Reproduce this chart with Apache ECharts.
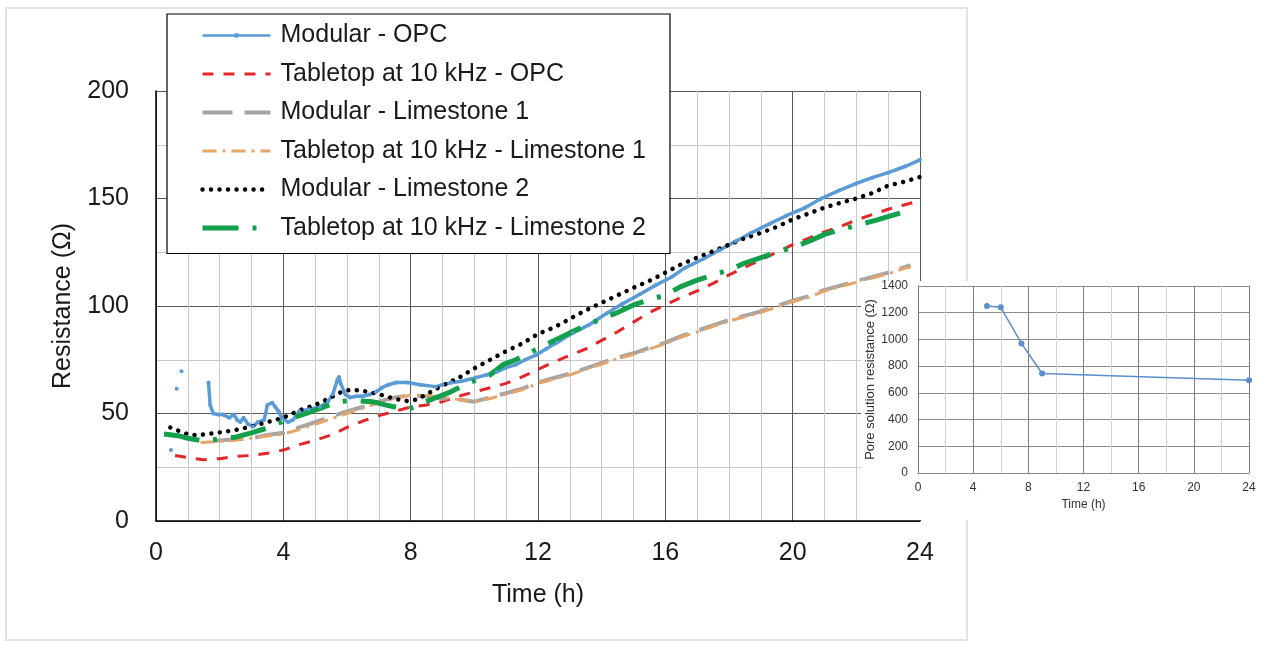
<!DOCTYPE html>
<html>
<head>
<meta charset="utf-8">
<title>Resistance vs time</title>
<script src="https://cdn.jsdelivr.net/npm/echarts@6/dist/echarts.min.js"></script>
<style>
  html, body { margin: 0; padding: 0; background: #fff; }
  #chart { width: 1262px; height: 645px; }
</style>
</head>
<body>
<div id="chart"></div>
<script>
// ---- data: [time (h), resistance (Ω)] ----
const seriesNames = [
  'Modular - OPC',
  'Tabletop at 10 kHz - OPC',
  'Modular - Limestone 1',
  'Tabletop at 10 kHz - Limestone 1',
  'Modular - Limestone 2',
  'Tabletop at 10 kHz - Limestone 2'
];

const modularOpc = [
  [0.47, 33], null, [0.65, 61.5], null, [0.8, 69.6], null,
  [1.65, 64.4], [1.7, 54], [1.8, 50], [1.95, 49.5], [2.1, 49.5], [2.3, 48], [2.45, 49.5],
  [2.55, 47], [2.65, 46], [2.75, 48], [2.9, 45], [3.05, 44], [3.2, 46], [3.4, 47],
  [3.5, 54], [3.65, 55], [3.75, 53], [3.85, 51], [3.95, 48], [4.15, 46], [4.3, 47],
  [4.5, 51], [4.8, 52], [5.15, 53], [5.4, 55.5], [5.55, 58.8], [5.7, 65.7], [5.75, 67],
  [5.8, 64], [5.95, 58.8], [6.1, 57.4], [6.3, 58], [6.5, 58], [6.7, 58.8], [6.9, 60],
  [7.1, 62], [7.3, 63.4], [7.55, 64.4], [7.9, 64.4], [8.3, 63.4], [8.8, 62.5], [9.0, 63.4],
  [9.3, 64.4], [9.6, 65], [10.05, 66.7], [10.4, 68], [10.7, 69.4], [11.0, 71.3], [11.3, 72.7],
  [11.6, 75], [11.95, 77.3], [12.25, 80], [12.6, 83], [13.1, 87.5], [13.6, 91.2], [14.15, 96.5],
  [14.65, 101], [15.2, 105.5], [15.7, 109.7], [16.2, 113.5], [16.6, 117.6], [17.2, 122],
  [17.7, 126], [18.2, 130], [18.7, 134], [19.3, 138.4], [19.8, 142], [20.4, 145.8], [20.9, 150],
  [21.45, 153.7], [22.0, 157], [22.5, 159.7], [23.0, 162], [23.55, 165], [24.0, 168]
];

const tabletopOpc = [
  [0.6, 30.5], [1.0, 29.5], [1.5, 28.5], [2.0, 29], [2.5, 30], [3.0, 30.5], [3.5, 31.5],
  [4.0, 33], [4.5, 35.5], [5.0, 37.5], [5.5, 40], [6.0, 43.5], [6.5, 46.5], [7.0, 49],
  [7.5, 51], [8.0, 53], [8.5, 54], [9.0, 55.5], [9.5, 58], [10.0, 60], [10.5, 62], [11.0, 64],
  [11.5, 67], [12.0, 70.5], [12.5, 74], [13.0, 77], [13.5, 80], [14.0, 84], [14.5, 88],
  [15.0, 92.5], [15.5, 97], [16.0, 100.5], [16.5, 104], [17.0, 107], [17.5, 110.5],
  [18.0, 114.5], [18.5, 118], [19.0, 121.5], [19.5, 125], [20.0, 128.5], [20.5, 131.5],
  [21.0, 134.5], [21.5, 137], [22.0, 140], [22.5, 142.5], [23.0, 145], [23.5, 147], [24.0, 149]
];

const modularLs1 = [
  [1.8, 37.5], [2.0, 37.5], [2.5, 38], [3.0, 38.5], [3.5, 40], [4.0, 41], [4.5, 43.5],
  [5.0, 46], [5.5, 48.5], [6.0, 51], [6.5, 53], [7.0, 55.5], [7.5, 57.5], [8.0, 58.5],
  [8.5, 58], [9.0, 57], [9.5, 56.5], [10.0, 55.5], [10.5, 57.5], [11.0, 59.5], [11.5, 61.5],
  [12.0, 64.5], [12.5, 66.5], [13.0, 68.5], [13.5, 71], [14.0, 73.5], [14.5, 76], [15.0, 78],
  [15.5, 80.5], [16.0, 83], [16.5, 86], [17.0, 88.5], [17.5, 91], [18.0, 93.5], [18.5, 95.5],
  [19.0, 97.5], [19.5, 100], [20.0, 102.5], [20.5, 104.5], [21.0, 107.5], [21.5, 109.5],
  [22.0, 111.5], [22.5, 113.5], [23.0, 115.5], [23.5, 118], [23.7, 119]
];

const tabletopLs1 = [
  [1.4, 36.5], [2.0, 37], [2.5, 37.5], [3.0, 38.5], [3.5, 39.5], [4.0, 40.5], [4.5, 42.5],
  [5.0, 45], [5.5, 47.5], [6.0, 50], [6.5, 52.5], [7.0, 55], [7.5, 57], [8.0, 58.5],
  [8.5, 58.5], [9.0, 57.5], [9.5, 56.5], [10.0, 55.5], [10.5, 57], [11.0, 59], [11.5, 61],
  [12.0, 64], [12.5, 66], [13.0, 68], [13.5, 70.5], [14.0, 73], [14.5, 75.5], [15.0, 77.5],
  [15.5, 80], [16.0, 82.5], [16.5, 85.5], [17.0, 88], [17.5, 90.5], [18.0, 93], [18.5, 95],
  [19.0, 97], [19.5, 99.5], [20.0, 102], [20.5, 104], [21.0, 107], [21.5, 109], [22.0, 111],
  [22.5, 113], [23.0, 115], [23.5, 117.5], [23.7, 118]
];

const modularLs2 = [
  [0.45, 43.5], [0.75, 41.7], [1.0, 40.3], [1.3, 39.8], [1.6, 40.5], [2.0, 41.2], [2.5, 42.3],
  [3.0, 44], [3.5, 46], [4.0, 48], [4.5, 51.5], [5.0, 54], [5.5, 57.5], [5.9, 60.6], [6.2, 61],
  [6.5, 60.5], [7.0, 59], [7.5, 56.8], [7.9, 55.8], [8.2, 56.5], [8.5, 59], [9.0, 63],
  [9.5, 66.5], [10.0, 71], [10.5, 75], [11.0, 79], [11.5, 82.5], [12.0, 87], [12.5, 90],
  [13.0, 94], [13.5, 98], [14.0, 101.5], [14.5, 105], [15.0, 108.5], [15.5, 111.7],
  [16.0, 115.5], [16.5, 119.4], [17.0, 122.5], [17.5, 125.5], [18.0, 128.5], [18.5, 131.5],
  [19.0, 134], [19.5, 136.8], [20.0, 140.3], [20.5, 143], [21.0, 145.8], [21.5, 148],
  [22.0, 150], [22.5, 152.5], [23.0, 156], [23.5, 157.8], [24.0, 160]
];

const tabletopLs2 = [
  [0.25, 40.5], [0.75, 39.5], [1.0, 38.5], [1.6, 37], [2.0, 38.4], [2.5, 39], [3.0, 41],
  [3.55, 43.5], [4.0, 46.5], [4.6, 49.5], [5.0, 51.5], [5.7, 55.5], [6.2, 56], [6.8, 55.5],
  [7.2, 54], [7.9, 51.8], [8.4, 55], [8.9, 58], [9.2, 59.7], [9.85, 64.4], [10.5, 68],
  [10.9, 72.7], [11.3, 75], [11.8, 78.7], [12.45, 83.5], [13.0, 87.5], [13.5, 91], [14.0, 94],
  [14.5, 97], [15.0, 100.5], [15.5, 103], [16.0, 105], [16.45, 108.8], [17.0, 112],
  [17.5, 114.5], [18.0, 116.7], [18.5, 120], [19.05, 122.7], [19.5, 125], [20.0, 127.3],
  [20.5, 130], [21.0, 133.3], [21.5, 135.5], [22.0, 137.5], [22.6, 139.8], [23.1, 142],
  [23.65, 144.4]
];

// pore solution resistance (inset)
const poreTime = [5, 6, 7.5, 9, 24];
const poreResistance = [1250, 1240, 970, 745, 695];

// axis ticks
const mainTimeTicks = [0, 4, 8, 12, 16, 20, 24];
const mainResTicks = [0, 50, 100, 150, 200];
const insetTimeTicks = [0, 4, 8, 12, 16, 20, 24];
const insetResTicks = [0, 200, 400, 600, 800, 1000, 1200, 1400];

// ---- styles ----
const FONT = "'Liberation Sans', Arial, sans-serif";
const styles = [
  { color: '#5b9bd5', width: 3.5, type: 'solid', cap: 'butt', symbol: true },
  { color: '#e3262b', width: 3, type: [11, 10], cap: 'butt' },
  { color: '#a5a5a5', width: 4, type: [30, 12], cap: 'butt' },
  { color: '#e6a46a', width: 3, type: [14, 6, 3, 6], cap: 'butt' },
  { color: '#000000', width: 4.5, type: [0.01, 8.5], cap: 'round' },
  { color: '#12a04a', width: 5, type: [36, 14, 4, 14], cap: 'butt' }
];
const mainData = [modularOpc, tabletopOpc, modularLs1, tabletopLs1, modularLs2, tabletopLs2];

function ticksAxis(ticks) {
  return { min: ticks[0], max: ticks[ticks.length - 1], interval: ticks[1] - ticks[0] };
}

const mainSeries = seriesNames.map((name, i) => {
  const s = styles[i];
  return {
    name: name,
    type: 'line',
    xAxisIndex: 0,
    yAxisIndex: 0,
    data: mainData[i],
    connectNulls: false,
    symbol: s.symbol ? 'circle' : 'none',
    symbolSize: 4,
    showSymbol: !!s.symbol,
    showAllSymbol: true,
    color: s.color,
    itemStyle: { color: s.color },
    lineStyle: { color: s.color, width: s.width, type: s.type, cap: s.cap },
    emphasis: { disabled: true },
    animation: false,
    z: 2
  };
});

const legendData = seriesNames.map((name, i) => {
  const s = styles[i];
  return {
    name: name,
    itemStyle: s.symbol ? { color: s.color } : { opacity: 0 },
    lineStyle: { color: s.color, width: s.symbol ? 2.5 : s.width, type: s.type, cap: s.cap }
  };
});

const chart = echarts.init(document.getElementById('chart'), null, { renderer: 'canvas' });

const option = {
  backgroundColor: '#ffffff',
  animation: false,
  textStyle: { fontFamily: FONT },
  graphic: [
    {
      type: 'rect', z: 1, silent: true,
      shape: { x: 6, y: 8, width: 961, height: 632 },
      style: { fill: 'none', stroke: '#d9d9d9', lineWidth: 1.5 }
    },
    {
      type: 'rect', z: 6, silent: true,
      shape: { x: 861, y: 281, width: 401, height: 239 },
      style: { fill: '#ffffff', stroke: 'none' }
    }
  ],
  grid: [
    { left: 156, right: 342, top: 91, bottom: 124 },
    { left: 918, right: 13, top: 286, bottom: 172 }
  ],
  legend: {
    orient: 'vertical',
    left: 167,
    top: 14,
    padding: [9, 24, 13, 33],
    itemWidth: 68,
    itemHeight: 6,
    itemGap: 13.5,
    backgroundColor: '#ffffff',
    borderColor: '#000000',
    borderWidth: 1.2,
    selectedMode: false,
    textStyle: { fontFamily: FONT, fontSize: 25, color: '#1a1a1a', lineHeight: 25, padding: [0, 0, 0, 5] },
    data: legendData,
    z: 4
  },
  xAxis: [
    Object.assign({
      type: 'value', gridIndex: 0,
      name: 'Time (h)', nameLocation: 'middle', nameGap: 62,
      nameTextStyle: { fontFamily: FONT, fontSize: 25, color: '#1a1a1a' },
      axisLine: { show: true, onZero: false, lineStyle: { color: '#000', width: 1.5 } },
      axisTick: { show: false },
      axisLabel: { fontFamily: FONT, fontSize: 25, color: '#1a1a1a', margin: 20 },
      splitLine: { show: true, lineStyle: { color: '#5a5a5a', width: 1 } },
      minorTick: { show: false, splitNumber: 4 },
      minorSplitLine: { show: true, lineStyle: { color: '#c9c9c9', width: 1 } },
      z: 0
    }, ticksAxis(mainTimeTicks)),
    Object.assign({
      type: 'value', gridIndex: 1,
      name: 'Time (h)', nameLocation: 'middle', nameGap: 26,
      nameTextStyle: { fontFamily: FONT, fontSize: 12, color: '#333' },
      axisLine: { show: true, onZero: false, lineStyle: { color: '#8a8a8a', width: 1 } },
      axisTick: { show: false },
      axisLabel: { fontFamily: FONT, fontSize: 12, color: '#333', margin: 9 },
      splitLine: { show: true, lineStyle: { color: '#7f7f7f', width: 1 } },
      minorTick: { show: false, splitNumber: 2 },
      minorSplitLine: { show: true, lineStyle: { color: '#d4d4d4', width: 1 } },
      z: 8
    }, ticksAxis(insetTimeTicks))
  ],
  yAxis: [
    Object.assign({
      type: 'value', gridIndex: 0,
      name: 'Resistance (Ω)', nameLocation: 'middle', nameGap: 80,
      nameTextStyle: { fontFamily: FONT, fontSize: 25, color: '#1a1a1a' },
      axisLine: { show: true, onZero: false, lineStyle: { color: '#000', width: 1.5 } },
      axisTick: { show: false },
      axisLabel: { fontFamily: FONT, fontSize: 25, color: '#1a1a1a', margin: 27 },
      splitLine: { show: true, lineStyle: { color: '#5a5a5a', width: 1 } },
      minorTick: { show: false, splitNumber: 2 },
      minorSplitLine: { show: true, lineStyle: { color: '#c9c9c9', width: 1 } },
      z: 0
    }, ticksAxis(mainResTicks)),
    Object.assign({
      type: 'value', gridIndex: 1,
      name: 'Pore solution resistance (Ω)', nameLocation: 'middle', nameGap: 38,
      nameTextStyle: { fontFamily: FONT, fontSize: 13, color: '#333' },
      axisLine: { show: true, onZero: false, lineStyle: { color: '#7a7a7a', width: 1 } },
      axisTick: { show: false },
      axisLabel: { fontFamily: FONT, fontSize: 12, color: '#333', margin: 10, formatter: (v) => String(v) },
      splitLine: { show: true, lineStyle: { color: '#8c8c8c', width: 1 } },
      z: 8
    }, ticksAxis(insetResTicks))
  ],
  series: mainSeries.concat([
    {
      name: 'Pore solution resistance',
      type: 'line',
      xAxisIndex: 1,
      yAxisIndex: 1,
      data: poreTime.map((t, i) => [t, poreResistance[i]]),
      symbol: 'circle',
      symbolSize: 6,
      showSymbol: true,
      color: '#5b8fcb',
      itemStyle: { color: '#5b8fcb' },
      lineStyle: { color: '#5b8fcb', width: 1.5 },
      emphasis: { disabled: true },
      animation: false,
      z: 9
    }
  ])
};

chart.setOption(option);
</script>
</body>
</html>
